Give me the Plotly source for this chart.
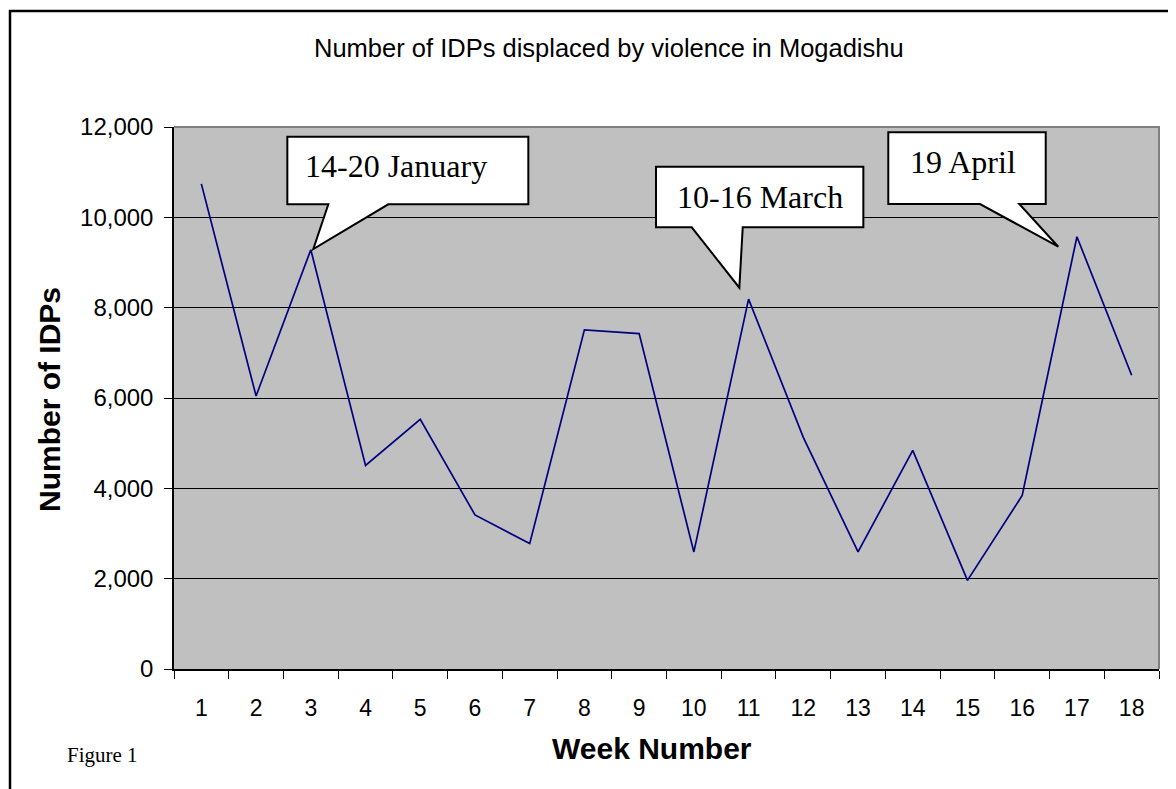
import plotly.graph_objects as go

weeks = list(range(1, 19))
idps = [10740, 6045, 9283, 4507, 5527, 3412, 2776, 7509, 7427,
        2592, 8189, 5130, 2592, 4839, 1963, 3841, 9571, 6503]
y_ticks = [0, 2000, 4000, 6000, 8000, 10000, 12000]
y_tick_labels = ["0", "2,000", "4,000", "6,000", "8,000", "10,000", "12,000"]

title_text = "Number of IDPs displaced by violence in Mogadishu"
x_title = "Week Number"
y_title = "Number of IDPs"

# callouts: label, text position, box (x0, x1, y0, y1), tail base xs, tip (x, y)
callouts = [
    ("14-20 January", (4.55, 11140), (2.571, 6.975, 10288, 11785), (3.32, 4.416), (3.046, 9298)),
    ("10-16 March", (11.2, 10450), (9.308, 13.097, 9779, 11120), (9.961, 10.893), (10.831, 8442)),
    ("19 April", (14.91, 11230), (13.553, 16.430, 10295, 11882), (15.229, 15.947), (16.66, 9349)),
]

# page offset (browser body margin)
OFF = 8
L, T, PW, PH = 174, 127, 985, 542


def px(x):
    return (x - L) / PW


def py(y):
    return (T + PH - y) / PH


fig = go.Figure()
fig.add_trace(go.Scatter(x=weeks, y=idps, mode="lines",
                         line=dict(color="#000080", width=1.7),
                         hoverinfo="skip", showlegend=False))

shapes = []
annotations = []
for label, (tx, ty), (bx0, bx1, by0, by1), (b1, b2), (tipx, tipy) in callouts:
    path = (f"M {bx0},{by1} L {bx1},{by1} L {bx1},{by0} L {b2},{by0} "
            f"L {tipx},{tipy} L {b1},{by0} L {bx0},{by0} Z")
    shapes.append(dict(type="path", xref="x", yref="y", path=path,
                       fillcolor="white", line=dict(color="black", width=2),
                       layer="above"))
    annotations.append(dict(x=tx, y=ty, xref="x", yref="y", text=label,
                            showarrow=False, xanchor="center", yanchor="middle",
                            font=dict(family="Liberation Serif", size=32, color="black")))

# outer frame
shapes.append(dict(type="rect", xref="paper", yref="paper",
                   x0=px(10), x1=px(1200), y0=py(820), y1=py(11),
                   line=dict(color="black", width=2.5), fillcolor="rgba(0,0,0,0)",
                   layer="below"))
# grey plot border top/right
shapes.append(dict(type="path", xref="paper", yref="paper",
                   path="M 0,1 L 1,1 L 1,0", line=dict(color="#808080", width=2),
                   layer="above"))


def text_ann(x, y, text, size, family="Liberation Sans", angle=0):
    return dict(x=px(x), y=py(y), xref="paper", yref="paper", text=text,
                showarrow=False, xanchor="center", yanchor="middle", textangle=angle,
                font=dict(family=family, size=size, color="black"))


annotations.append(text_ann(609, 48, title_text, 25.5))
annotations.append(text_ann(652, 748, "<b>" + x_title + "</b>", 30))
annotations.append(text_ann(49, 400, "<b>" + y_title + "</b>", 30, angle=-90))
annotations.append(text_ann(102, 755, "Figure 1", 21, family="Liberation Serif"))

fig.update_layout(
    width=1176, height=789,
    margin=dict(l=L - OFF, r=1176 - L - PW + OFF, t=T - OFF, b=789 - T - PH + OFF),
    paper_bgcolor="white",
    plot_bgcolor="#C0C0C0",
    shapes=shapes,
    annotations=annotations,
    font=dict(family="Liberation Sans", color="black"),
    xaxis=dict(
        range=[0.5, 18.5], tickvals=weeks, ticktext=[str(w) for w in weeks],
        ticks="", showgrid=False, zeroline=False,
        showline=True, linecolor="black", linewidth=1.5,
        tickfont=dict(size=23), ticklabelstandoff=18,
        minor=dict(tick0=0.5, dtick=1, ticks="outside", ticklen=8,
                   tickcolor="black", tickwidth=1, showgrid=False),
        fixedrange=True,
    ),
    yaxis=dict(
        range=[0, 12000], tickvals=y_ticks, ticktext=y_tick_labels,
        ticks="outside", ticklen=8, tickcolor="black",
        showgrid=True, gridcolor="black", gridwidth=1, zeroline=False,
        showline=True, linecolor="black", linewidth=1.5,
        tickfont=dict(size=24), ticklabelstandoff=6,
        fixedrange=True,
    ),
)

fig.write_html("out.html")
